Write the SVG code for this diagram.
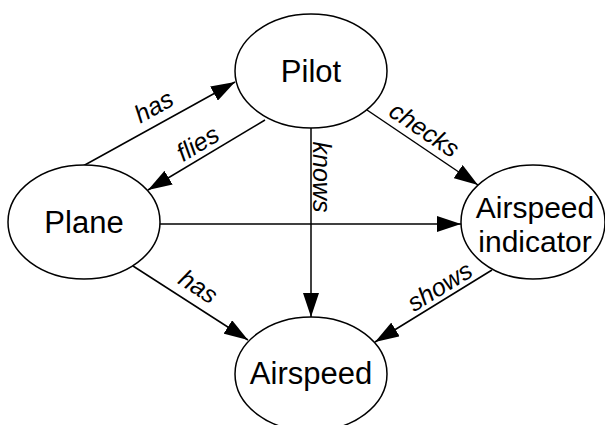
<svg xmlns="http://www.w3.org/2000/svg" width="605" height="425" viewBox="0 0 605 425">
<style>
.node ellipse{fill:#fff;stroke:#000;stroke-width:1.5}
.node text{font-family:"Liberation Sans",Arial,sans-serif;font-size:31px;text-anchor:middle;fill:#000}
.node text.sm{font-size:30px}
.edge line{stroke:#000;stroke-width:1.5;marker-end:url(#arr)}
.lbl{font-family:"Liberation Sans",Arial,sans-serif;font-size:25px;font-style:italic;text-anchor:middle;fill:#000}
</style>
<defs>
<marker id="arr" markerUnits="userSpaceOnUse" markerWidth="24" markerHeight="16" refX="24" refY="8" orient="auto">
<path d="M0,0 L24,8 L0,16 z" fill="#000"/>
</marker>
</defs>
<rect width="605" height="425" fill="#fff"/>
<g id="connectors">
<g class="edge" id="e-plane-pilot"><line x1="83" y1="166" x2="235" y2="82"/></g>
<g class="edge" id="e-pilot-plane"><line x1="265" y1="120" x2="148" y2="190"/></g>
<g class="edge" id="e-pilot-airspeed"><line x1="311" y1="128" x2="311" y2="317"/></g>
<g class="edge" id="e-pilot-ai"><line x1="367" y1="110" x2="478" y2="185"/></g>
<g class="edge" id="e-plane-ai"><line x1="160" y1="224" x2="461" y2="224"/></g>
<g class="edge" id="e-ai-airspeed"><line x1="492" y1="270" x2="375" y2="342"/></g>
<g class="edge" id="e-plane-airspeed"><line x1="133" y1="266" x2="248" y2="340"/></g>
<text class="lbl" transform="translate(154,107) rotate(-29)" y="8">has</text>
<text class="lbl" transform="translate(198,144) rotate(-31)" y="8">flies</text>
<text class="lbl" transform="translate(424,130) rotate(34)" y="8">checks</text>
<text class="lbl" transform="translate(321,177) rotate(90)" y="8">knows</text>
<text class="lbl" transform="translate(440,287) rotate(-31.5)" y="8">shows</text>
<text class="lbl" transform="translate(198,287) rotate(33)" y="8">has</text>
</g>
<g class="node" id="pilot"><ellipse cx="311" cy="71" rx="76" ry="57"/><text x="311" y="82">Pilot</text></g>
<g class="node" id="plane"><ellipse cx="84" cy="222" rx="76" ry="57"/><text x="84" y="233">Plane</text></g>
<g class="node" id="airspeed-indicator"><ellipse cx="533" cy="222" rx="72" ry="57"/><text class="sm" x="535" y="218">Airspeed</text><text class="sm" x="535" y="252">indicator</text></g>
<g class="node" id="airspeed"><ellipse cx="311" cy="374" rx="76" ry="57"/><text x="311" y="384">Airspeed</text></g>
</svg>
